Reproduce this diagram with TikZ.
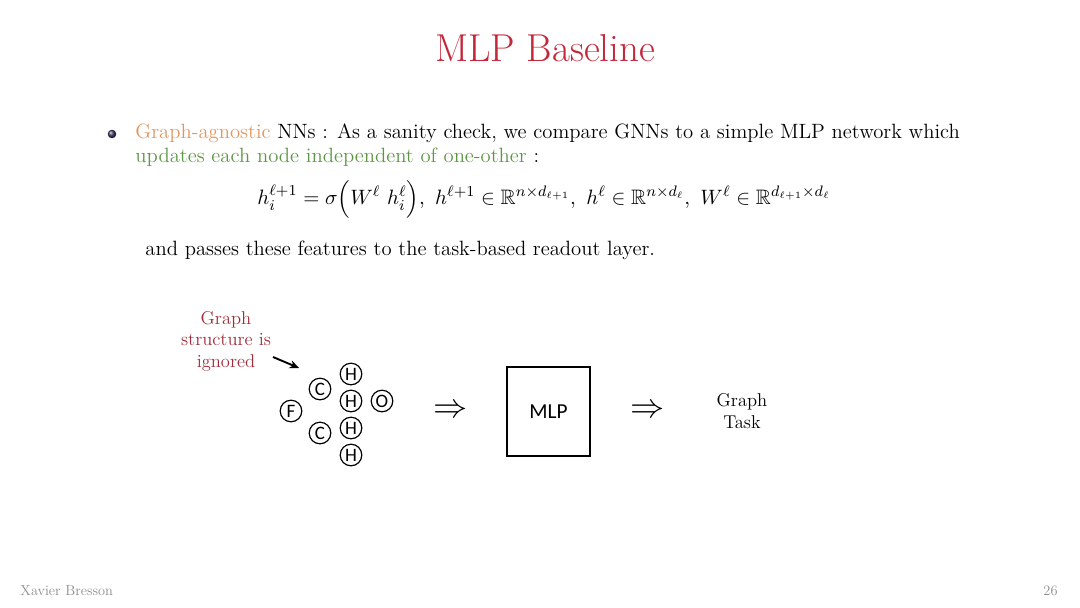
\documentclass[tikz,border=0pt]{standalone}
\usepackage{amsmath,amssymb}
\usepackage{graphicx}
\usepackage{fontspec}
\newfontfamily\atomfont{Carlito}
\usetikzlibrary{arrows.meta}
\definecolor{titlered}{RGB}{196,38,58}
\definecolor{agnorange}{RGB}{226,150,95}
\definecolor{indgreen}{RGB}{95,150,70}
\definecolor{notered}{RGB}{160,45,60}
\definecolor{footgray}{RGB}{140,140,140}
\definecolor{ballblue}{RGB}{60,60,100}
\newcommand{\scaledtext}[2]{\scalebox{#1}{\fontsize{11}{13.6}\selectfont #2}}
\newcommand{\scaledlines}[2]{\scalebox{#1}{\fontsize{11}{12.8}\selectfont\begin{tabular}{@{}c@{}}#2\end{tabular}}}
\begin{document}
\begin{tikzpicture}[x={(0.148148mm,0)},y={(0,-0.148148mm)},
  plain/.style={inner sep=0pt},
  atom/.style={draw,circle,line width=0.5pt,minimum size=3.2mm,inner sep=0pt,font=\atomfont\fontsize{8}{8}\selectfont},
  mlpbox/.style={draw,line width=0.6pt,minimum width=12.3mm,minimum height=13.2mm,inner sep=0pt,font=\atomfont\fontsize{9}{10}\selectfont},
  implies/.style={inner sep=0pt,font=\fontsize{14}{16}\selectfont},
  footer/.style={inner sep=0pt,text=footgray}]
\useasboundingbox (0,0) rectangle (1080,608);
% title
\node[plain,text=titlered,font=\fontsize{16.4}{19}\selectfont] (title) at (545,48) {MLP Baseline};
% bullet
\shade[ball color=ballblue] (112,134) circle (4.3);
\node[plain,anchor=base west] (l1) at (135,138.5) {\scaledtext{0.792}{\textcolor{agnorange}{Graph-agnostic} NNs : As a sanity check, we compare GNNs to a simple MLP network which}};
\node[plain,anchor=base west] (l2) at (135,162.5) {\scaledtext{0.792}{\textcolor{indgreen}{updates each node independent of one-other} :}};
\node[plain] (eq) at (544,199) {\scaledtext{0.80}{$h_i^{\ell+1} = \sigma\Big(W^\ell\ h_i^\ell\Big),\ h^{\ell+1}\in\mathbb{R}^{n\times d_{\ell+1}},\ h^\ell\in\mathbb{R}^{n\times d_\ell},\ W^\ell\in\mathbb{R}^{d_{\ell+1}\times d_\ell}$}};
\node[plain,anchor=base west] (l3) at (145,255.5) {\scaledtext{0.792}{and passes these features to the task-based readout layer.}};
% note
\node[plain,text=notered] (note) at (226,341.5) {\scaledlines{0.71}{Graph\\structure is\\ignored}};
\coordinate (na) at (273,357);
\coordinate (nb) at (299,368);
\draw[line width=0.8pt,-{Stealth[length=4pt,width=3.5pt]}] (na) -- (nb);
% atoms
\node[atom] (c1) at (320,389) {C};
\node[atom] (h1) at (351,374) {H};
\node[atom] (h2) at (351,401) {H};
\node[atom] (o1) at (382,401) {O};
\node[atom] (f1) at (291,411) {F};
\node[atom] (c2) at (320,433) {C};
\node[atom] (h3) at (351,428) {H};
\node[atom] (h4) at (351,455) {H};
% pipeline
\node[implies] (im1) at (451,411) {$\Rightarrow$};
\node[mlpbox] (mlp) at (548.5,411.5) {MLP};
\node[implies] (im2) at (648,411) {$\Rightarrow$};
\node[plain] (task) at (742,413) {\scaledlines{0.71}{Graph\\Task}};
% footer
\node[footer,anchor=base west] (author) at (20,595) {\scaledtext{0.55}{Xavier Bresson}};
\node[footer,anchor=base east] (page) at (1058,595) {\scaledtext{0.55}{26}};
\end{tikzpicture}
\end{document}
